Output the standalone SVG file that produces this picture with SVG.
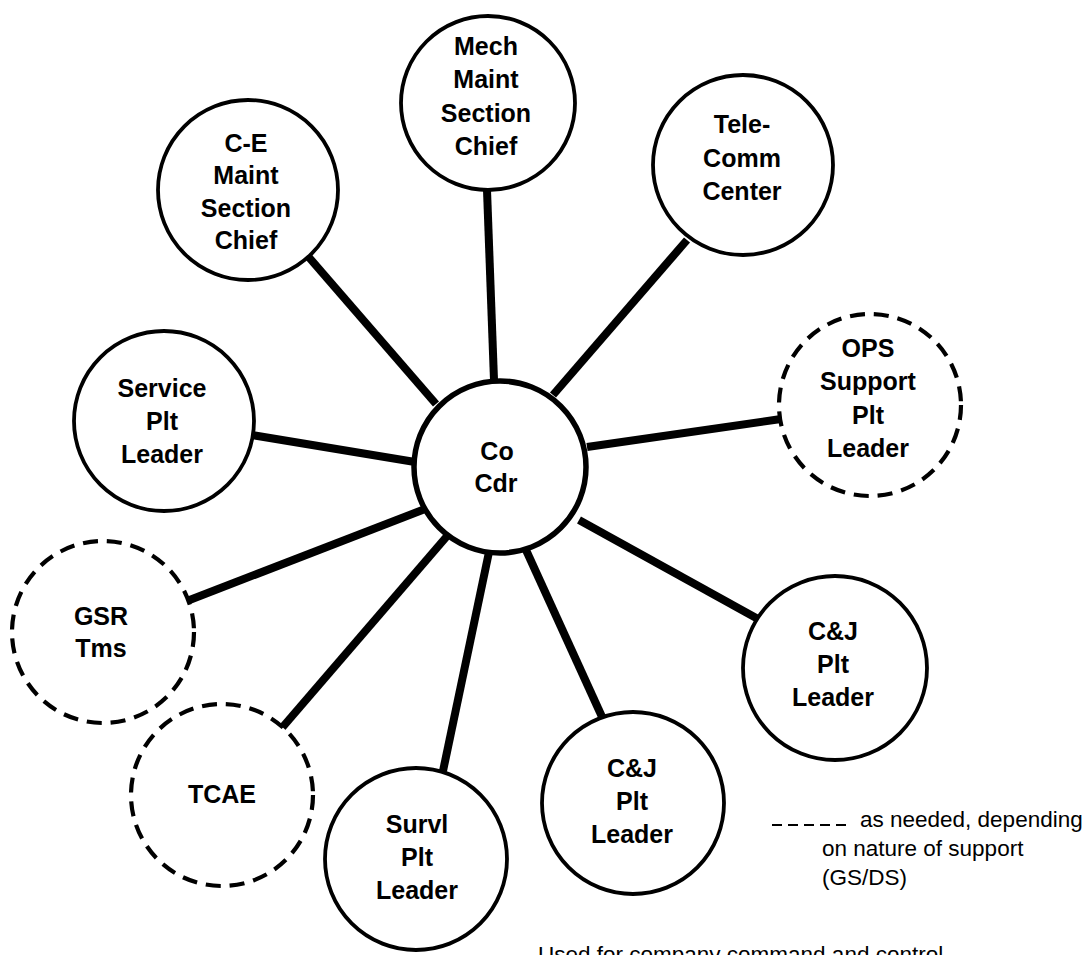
<svg xmlns="http://www.w3.org/2000/svg" width="1088" height="955" viewBox="0 0 1088 955">
  <style>
    .node { fill: #fff; stroke: #000; stroke-width: 3.8; }
    .hub { fill: #fff; stroke: #000; stroke-width: 5.5; }
    .opt { fill: #fff; stroke: #000; stroke-width: 4.2; stroke-dasharray: 15 9; }
    .lbl { font-family: "Liberation Sans", Arial, sans-serif; font-weight: bold; font-size: 25px; text-anchor: middle; fill: #000; }
    .note { font-family: "Liberation Sans", Arial, sans-serif; font-size: 22.5px; fill: #000; }
    #links line { stroke: #000; stroke-width: 8; stroke-linecap: butt; }
  </style>
  <rect width="1088" height="955" fill="#fff"/>

  <!-- spokes from the company commander to each element -->
  <g id="links">
    <line x1="487" y1="190" x2="494" y2="380"/>
    <line x1="687" y1="240" x2="553" y2="395"/>
    <line x1="306" y1="254" x2="436" y2="404"/>
    <line x1="252" y1="435" x2="415" y2="462"/>
    <line x1="781" y1="419" x2="587" y2="447"/>
    <line x1="758" y1="619" x2="579" y2="520"/>
    <line x1="603" y1="719" x2="526" y2="550"/>
    <line x1="443" y1="771" x2="489" y2="552"/>
    <line x1="281" y1="729" x2="448" y2="535"/>
    <line x1="187" y1="601" x2="425" y2="509"/>
  </g>

  <g id="co-cdr">
    <circle class="hub" cx="500" cy="467" r="86"/>
    <text class="lbl" font-size="26" x="497" y="460">Co</text>
    <text class="lbl" font-size="26" x="496" y="492">Cdr</text>
  </g>

  <g id="mech-maint">
    <circle class="node" cx="488" cy="103" r="87"/>
    <text class="lbl" x="486" y="55">Mech</text>
    <text class="lbl" x="486" y="88">Maint</text>
    <text class="lbl" x="486" y="122">Section</text>
    <text class="lbl" x="486" y="155">Chief</text>
  </g>

  <g id="telecomm">
    <circle class="node" cx="743" cy="165" r="90"/>
    <text class="lbl" x="742" y="133">Tele-</text>
    <text class="lbl" x="742" y="167">Comm</text>
    <text class="lbl" x="742" y="200">Center</text>
  </g>

  <g id="ce-maint">
    <circle class="node" cx="248" cy="190" r="90"/>
    <text class="lbl" x="246" y="152">C-E</text>
    <text class="lbl" x="246" y="184">Maint</text>
    <text class="lbl" x="246" y="217">Section</text>
    <text class="lbl" x="246" y="249">Chief</text>
  </g>

  <g id="service-plt">
    <circle class="node" cx="164" cy="421" r="90"/>
    <text class="lbl" x="162" y="397">Service</text>
    <text class="lbl" x="162" y="430">Plt</text>
    <text class="lbl" x="162" y="463">Leader</text>
  </g>

  <g id="ops-support">
    <circle class="opt" cx="870" cy="405" r="91"/>
    <text class="lbl" x="868" y="357">OPS</text>
    <text class="lbl" x="868" y="390">Support</text>
    <text class="lbl" x="868" y="424">Plt</text>
    <text class="lbl" x="868" y="457">Leader</text>
  </g>

  <g id="cj-plt-right">
    <circle class="node" cx="835" cy="668" r="92"/>
    <text class="lbl" x="833" y="640">C&amp;J</text>
    <text class="lbl" x="833" y="673">Plt</text>
    <text class="lbl" x="833" y="706">Leader</text>
  </g>

  <g id="cj-plt-lower">
    <circle class="node" cx="633" cy="803" r="91"/>
    <text class="lbl" x="632" y="777">C&amp;J</text>
    <text class="lbl" x="632" y="810">Plt</text>
    <text class="lbl" x="632" y="843">Leader</text>
  </g>

  <g id="survl-plt">
    <circle class="node" cx="416" cy="859" r="91"/>
    <text class="lbl" x="417" y="833">Survl</text>
    <text class="lbl" x="417" y="866">Plt</text>
    <text class="lbl" x="417" y="899">Leader</text>
  </g>

  <g id="tcae">
    <circle class="opt" cx="222" cy="795" r="91"/>
    <text class="lbl" x="222" y="803">TCAE</text>
  </g>

  <g id="gsr-tms">
    <circle class="opt" cx="103" cy="632" r="91"/>
    <text class="lbl" x="101" y="625">GSR</text>
    <text class="lbl" x="101" y="657">Tms</text>
  </g>

  <!-- legend -->
  <g id="legend">
    <line x1="772" y1="825" x2="850" y2="825" stroke="#000" stroke-width="2" stroke-dasharray="10 6"/>
    <text class="note" x="860" y="827">as needed, depending</text>
    <text class="note" x="822" y="856">on nature of support</text>
    <text class="note" x="822" y="885">(GS/DS)</text>
  </g>

  <text class="note" x="538" y="962">Used for company command and control</text>
</svg>
